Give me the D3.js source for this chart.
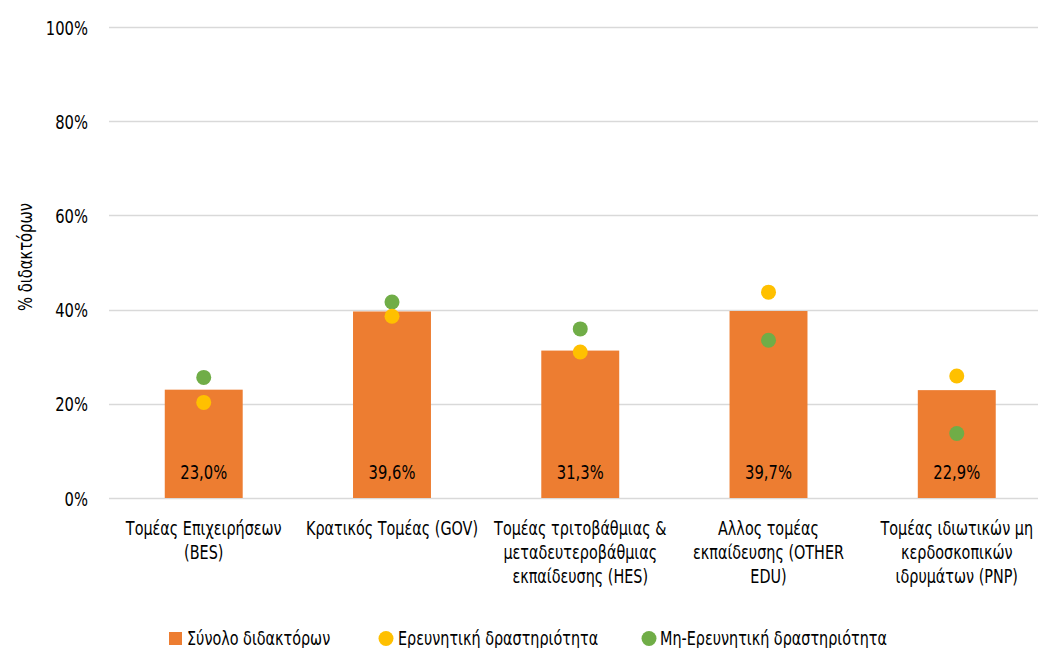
<!DOCTYPE html>
<html>
<head>
<meta charset="utf-8">
<script src="https://cdn.jsdelivr.net/npm/d3@7"></script>
<style>
  body { margin: 0; background: #fff; }
  text { font-family: "DejaVu Sans Condensed", "DejaVu Sans", sans-serif; font-stretch: condensed; fill: #000; }
</style>
</head>
<body>
<svg id="chart"></svg>
<script>
// data
var categories = [
  ["Τομέας Επιχειρήσεων", "(BES)"],
  ["Κρατικός Τομέας (GOV)"],
  ["Τομέας τριτοβάθμιας &", "μεταδευτεροβάθμιας", "εκπαίδευσης (HES)"],
  ["Αλλος τομέας", "εκπαίδευσης (OTHER", "EDU)"],
  ["Τομέας ιδιωτικών μη", "κερδοσκοπικών", "ιδρυμάτων (PNP)"]
];
var totalValues = [23.0, 39.6, 31.3, 39.7, 22.9];
var researchValues = [20.3, 38.6, 31.0, 43.7, 25.9];
var nonResearchValues = [25.6, 41.6, 35.9, 33.5, 13.7];
var yTicks = [0, 20, 40, 60, 80, 100];
var legendLabels = ["Σύνολο διδακτόρων", "Ερευνητική δραστηριότητα", "Μη-Ερευνητική δραστηριότητα"];

var colors = { bar: "#ED7D31", research: "#FFC000", nonResearch: "#70AD47", grid: "#d9d9d9" };

var W = 1038, H = 648;
var SX = 0.82; // squeeze text to look like a condensed face
var svg = d3.select("#chart").attr("width", W).attr("height", H);

function place(px, py, rot) {
  return "translate(" + px + "," + py + ")" + (rot ? " rotate(" + rot + ")" : "") + " scale(" + SX + ",1)";
}

// scales
var x = d3.scaleBand()
  .domain(d3.range(categories.length))
  .range([109.6, 1050.9])
  .paddingInner(0.586)
  .paddingOuter(0.293);

var y = d3.scaleLinear()
  .domain([0, 100])
  .range([498, 27]);

// gridlines
svg.append("g")
  .selectAll("line")
  .data(yTicks)
  .enter()
  .append("line")
    .attr("x1", 109)
    .attr("x2", W)
    .attr("y1", function(d) { return Math.round(y(d)) + 0.5; })
    .attr("y2", function(d) { return Math.round(y(d)) + 0.5; })
    .attr("stroke", colors.grid)
    .attr("stroke-width", 1.3);

// y tick labels
svg.append("g")
  .selectAll("text")
  .data(yTicks)
  .enter()
  .append("text")
    .attr("transform", function(d) { return place(88, y(d) + 7.5); })
    .attr("text-anchor", "end")
    .style("font-size", "20px")
    .text(function(d) { return d + "%"; });

// y axis title
svg.append("text")
  .attr("transform", place(32, 257, -90))
  .attr("text-anchor", "middle")
  .style("font-size", "20px")
  .text("% διδακτόρων");

// bars
svg.append("g")
  .selectAll("rect")
  .data(totalValues)
  .enter()
  .append("rect")
    .attr("x", function(d, i) { return x(i); })
    .attr("width", x.bandwidth())
    .attr("y", function(d) { return y(d); })
    .attr("height", function(d) { return y(0) - y(d); })
    .attr("fill", colors.bar);

// bar value labels
svg.append("g")
  .selectAll("text")
  .data(totalValues)
  .enter()
  .append("text")
    .attr("transform", function(d, i) { return place(x(i) + x.bandwidth() / 2, 479); })
    .attr("text-anchor", "middle")
    .style("font-size", "20px")
    .text(function(d) { return d.toFixed(1).replace(".", ",") + "%"; });

// dots
function addDots(values, color) {
  svg.append("g")
    .selectAll("circle")
    .data(values)
    .enter()
    .append("circle")
      .attr("cx", function(d, i) { return x(i) + x.bandwidth() / 2; })
      .attr("cy", function(d) { return y(d); })
      .attr("r", 7.5)
      .attr("fill", color);
}
addDots(nonResearchValues, colors.nonResearch);
addDots(researchValues, colors.research);

// category labels
var catG = svg.append("g")
  .selectAll("text")
  .data(categories)
  .enter()
  .append("text")
    .attr("transform", function(d, i) { return place(x(i) + x.bandwidth() / 2, 535); })
    .attr("text-anchor", "middle")
    .style("font-size", "19.5px");
catG.selectAll("tspan")
  .data(function(d) { return d; })
  .enter()
  .append("tspan")
    .attr("x", 0)
    .attr("y", function(d, j) { return j * 24; })
    .text(function(d) { return d; });

// legend
var legend = svg.append("g").style("font-size", "19.5px");
legend.append("rect")
  .attr("x", 169).attr("y", 632).attr("width", 13).attr("height", 13)
  .attr("fill", colors.bar);
legend.append("text").attr("transform", place(187, 645)).text(legendLabels[0]);
legend.append("circle")
  .attr("cx", 386).attr("cy", 638.5).attr("r", 7.5)
  .attr("fill", colors.research);
legend.append("text").attr("transform", place(398, 645)).text(legendLabels[1]);
legend.append("circle")
  .attr("cx", 649).attr("cy", 638.5).attr("r", 7.5)
  .attr("fill", colors.nonResearch);
legend.append("text").attr("transform", place(660, 645)).text(legendLabels[2]);
</script>
</body>
</html>
